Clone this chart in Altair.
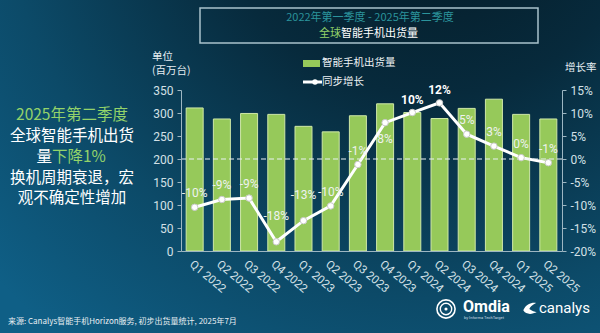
import altair as alt
import pandas as pd

# ---------------- data ----------------
quarters = ["Q1 2022", "Q2 2022", "Q3 2022", "Q4 2022", "Q1 2023", "Q2 2023", "Q3 2023",
            "Q4 2023", "Q1 2024", "Q2 2024", "Q3 2024", "Q4 2024", "Q1 2025", "Q2 2025"]
shipments = [311, 287, 299, 297, 271, 259, 294, 320, 301, 288, 310, 330, 297, 287]
growth = [-10.5, -8.8, -8.5, -18.0, -13.4, -10.2, -1.2, 7.9, 10.1, 12.2, 5.4, 2.8, 0.3, -0.8]
growth_labels = ["-10%", "-9%", "-9%", "-18%", "-13%", "-10%", "-1%", "8%", "10%", "12%",
                 "5%", "3%", "0%", "-1%"]
left_ticks = [0, 50, 100, 150, 200, 250, 300, 350]
right_ticks = [-20, -15, -10, -5, 0, 5, 10, 15]

df = pd.DataFrame({"quarter": quarters, "shipments": shipments,
                   "growth": growth, "label": growth_labels})
one = pd.DataFrame({"k": [0]})

CJK = "Noto Sans CJK SC"
LAT = "Roboto, Noto Sans CJK SC"
AXIS_TXT = "#d3e0e6"
AXIS_LINE = "#9db6c2"
GREEN_TXT = "#93d36a"

W, H = 381, 161
PAD = {"left": 181, "top": 90, "right": 38, "bottom": 82}

# ---------------- background ----------------
bg = alt.Chart(one).mark_rect(
    fill=alt.Gradient(
        gradient="radial",
        stops=[alt.GradientStop(color="#041720", offset=0),
               alt.GradientStop(color="#072a3c", offset=0.38),
               alt.GradientStop(color="#0c4a68", offset=0.72),
               alt.GradientStop(color="#0f5f86", offset=1)],
        x1=0.72, y1=0.0, r1=0, x2=0.72, y2=0.0, r2=1.0)
).encode(x=alt.value(-PAD["left"]), x2=alt.value(W + PAD["right"]),
         y=alt.value(-PAD["top"]), y2=alt.value(H + PAD["bottom"]))

x_enc = alt.X("quarter:N", sort=quarters,
              scale=alt.Scale(paddingInner=0.375, paddingOuter=0.19),
              axis=alt.Axis(title=None, labelAngle=40, labelAlign="left",
                            labelBaseline="top", labelPadding=7, ticks=False,
                            domainColor=AXIS_LINE, labelColor=AXIS_TXT,
                            labelFontSize=11.5, labelFont=LAT, zindex=1))

bars = alt.Chart(df).mark_bar(color="#96c95a", stroke="#cfe8a8", strokeWidth=1).encode(
    x=x_enc,
    y=alt.Y("shipments:Q", scale=alt.Scale(domain=[0, 350], nice=False),
            axis=alt.Axis(orient="left", values=left_ticks, title=None, grid=False,
                          domainColor=AXIS_LINE, tickColor=AXIS_LINE, tickSize=4,
                          labelPadding=4, labelColor=AXIS_TXT, labelFontSize=12,
                          labelFont=LAT, zindex=1))
)

gscale = alt.Scale(domain=[-20, 15], nice=False)
gaxis = alt.Axis(orient="right", values=right_ticks, title=None, grid=False,
                 labelExpr="datum.value + '%'",
                 domainColor=AXIS_LINE, tickColor=AXIS_LINE, tickSize=4,
                 labelPadding=4, labelColor=AXIS_TXT, labelFontSize=12,
                 labelFont=LAT, zindex=1)
gy = alt.Y("growth:Q", scale=gscale, axis=gaxis)

zero_rule = alt.Chart(one).transform_calculate(growth="0").mark_rule(
    color="#e8f0f4", strokeWidth=1, strokeDash=[5, 3]).encode(y=gy)

line = alt.Chart(df).mark_line(color="white", strokeWidth=3).encode(x=x_enc, y=gy)
pts = alt.Chart(df).mark_circle(size=42, color="white", stroke="#c9c9c9",
                                strokeWidth=1, opacity=1).encode(x=x_enc, y=gy)

normal_q = [q for q in quarters if q not in ("Q4 2022", "Q1 2023", "Q4 2023", "Q1 2024", "Q2 2024")]


def lbl(qs, dy, weight="normal", color="#eef2f0"):
    return alt.Chart(df).transform_filter(
        alt.FieldOneOfPredicate(field="quarter", oneOf=qs)
    ).mark_text(dy=dy, fontSize=12, fontWeight=weight, color=color, font=LAT,
                baseline="middle").encode(x=x_enc, y=gy, text="label:N")


labels = [lbl(normal_q, -14), lbl(["Q4 2022", "Q1 2023"], -26),
          lbl(["Q4 2023"], 16), lbl(["Q1 2024", "Q2 2024"], -13, "bold", "#ffffff")]

growth_group = alt.layer(line, zero_rule, pts, *labels)


def txt(text, x, y, size, color="white", align="center", weight="normal", font=CJK):
    return alt.Chart(one).mark_text(text=text, align=align, baseline="middle",
                                    fontSize=size, color=color, fontWeight=weight,
                                    font=font).encode(x=alt.value(x), y=alt.value(y))


texts = [
    # title box
    alt.Chart(one).mark_rect(fill="transparent", stroke="#a9c2cc", strokeWidth=1.5).encode(
        x=alt.value(19), x2=alt.value(357), y=alt.value(-82), y2=alt.value(-47)),
    txt("2022年第一季度 - 2025年第二季度", 189, -72, 11, "#2b949c"),
    txt("全球", 160, -56.5, 11, GREEN_TXT, align="right"),
    txt("智能手机出货量", 160, -56.5, 11, "white", align="left"),
    # left commentary
    txt("2025年第二季度", -109, 25, 15.5, GREEN_TXT),
    txt("全球智能手机出货", -109, 46, 15.5),
    txt("量", -129, 67, 15.5, "white", align="right"),
    txt("下降1%", -129, 67, 15.5, GREEN_TXT, align="left"),
    txt("换机周期衰退，宏", -109, 88, 15.5),
    txt("观不确定性增加", -109, 108, 15.5),
    # axis titles
    txt("单位", -29, -33.5, 10.5, "#e6eef2", align="left"),
    txt("(百万台)", -29, -19.5, 10.5, "#e6eef2", align="left"),
    txt("增长率", 384, -22, 10.5, "#e6eef2", align="left"),
    # legend
    alt.Chart(one).mark_rect(color="#96c95a").encode(
        x=alt.value(122), x2=alt.value(139), y=alt.value(-30), y2=alt.value(-23)),
    txt("智能手机出货量", 141, -27, 10.5, "#eef2f4", align="left"),
    alt.Chart(one).mark_rule(color="white", strokeWidth=3).encode(
        x=alt.value(122), x2=alt.value(141), y=alt.value(-8)),
    alt.Chart(one).mark_circle(size=30, color="white", opacity=1).encode(
        x=alt.value(134), y=alt.value(-8)),
    txt("同步增长", 141, -8, 10.5, "#eef2f4", align="left"),
    # footer
    txt("来源: Canalys智能手机Horizon服务, 初步出货量统计, 2025年7月", -173, 232, 8, "#e8eef2",
        align="left"),
    # logos
    alt.Chart(one).mark_point(size=330, color="white", strokeWidth=1.6, opacity=1).encode(
        x=alt.value(265), y=alt.value(219)),
    alt.Chart(one).mark_point(size=130, color="white", strokeWidth=1.4, opacity=1).encode(
        x=alt.value(265), y=alt.value(219)),
    alt.Chart(one).mark_circle(size=10, color="white", opacity=1).encode(
        x=alt.value(265), y=alt.value(219)),
    txt("Omdia", 282, 217, 16, "white", align="left", weight="bold", font=LAT),
    txt("by Informa TechTarget", 283, 228, 4, "#cfdde4", align="left", font=LAT),
    alt.Chart(one).mark_point(
        shape="M -1 0.2 C -0.6 -0.7 0.2 -1 0.9 -0.9 C 0.3 -0.6 0 -0.3 -0.1 0 "
              "C 0.3 0.3 0.7 0.4 1 0.5 C 0.3 0.8 -0.6 0.9 -1 0.2 Z",
        size=180, filled=True, color="white", opacity=1).encode(
        x=alt.value(349), y=alt.value(219)),
    txt("canalys", 358, 218, 15, "white", align="left", font=LAT),
]

chart = alt.layer(bg, bars, growth_group, *texts).resolve_scale(
    y="independent"
).properties(
    width=W, height=H, padding=PAD,
    autosize=alt.AutoSizeParams(type="none"),
    background="#0b3b55"
).configure_view(stroke=None)

chart.save("out.html", embed_options={"renderer": "svg", "actions": False})
